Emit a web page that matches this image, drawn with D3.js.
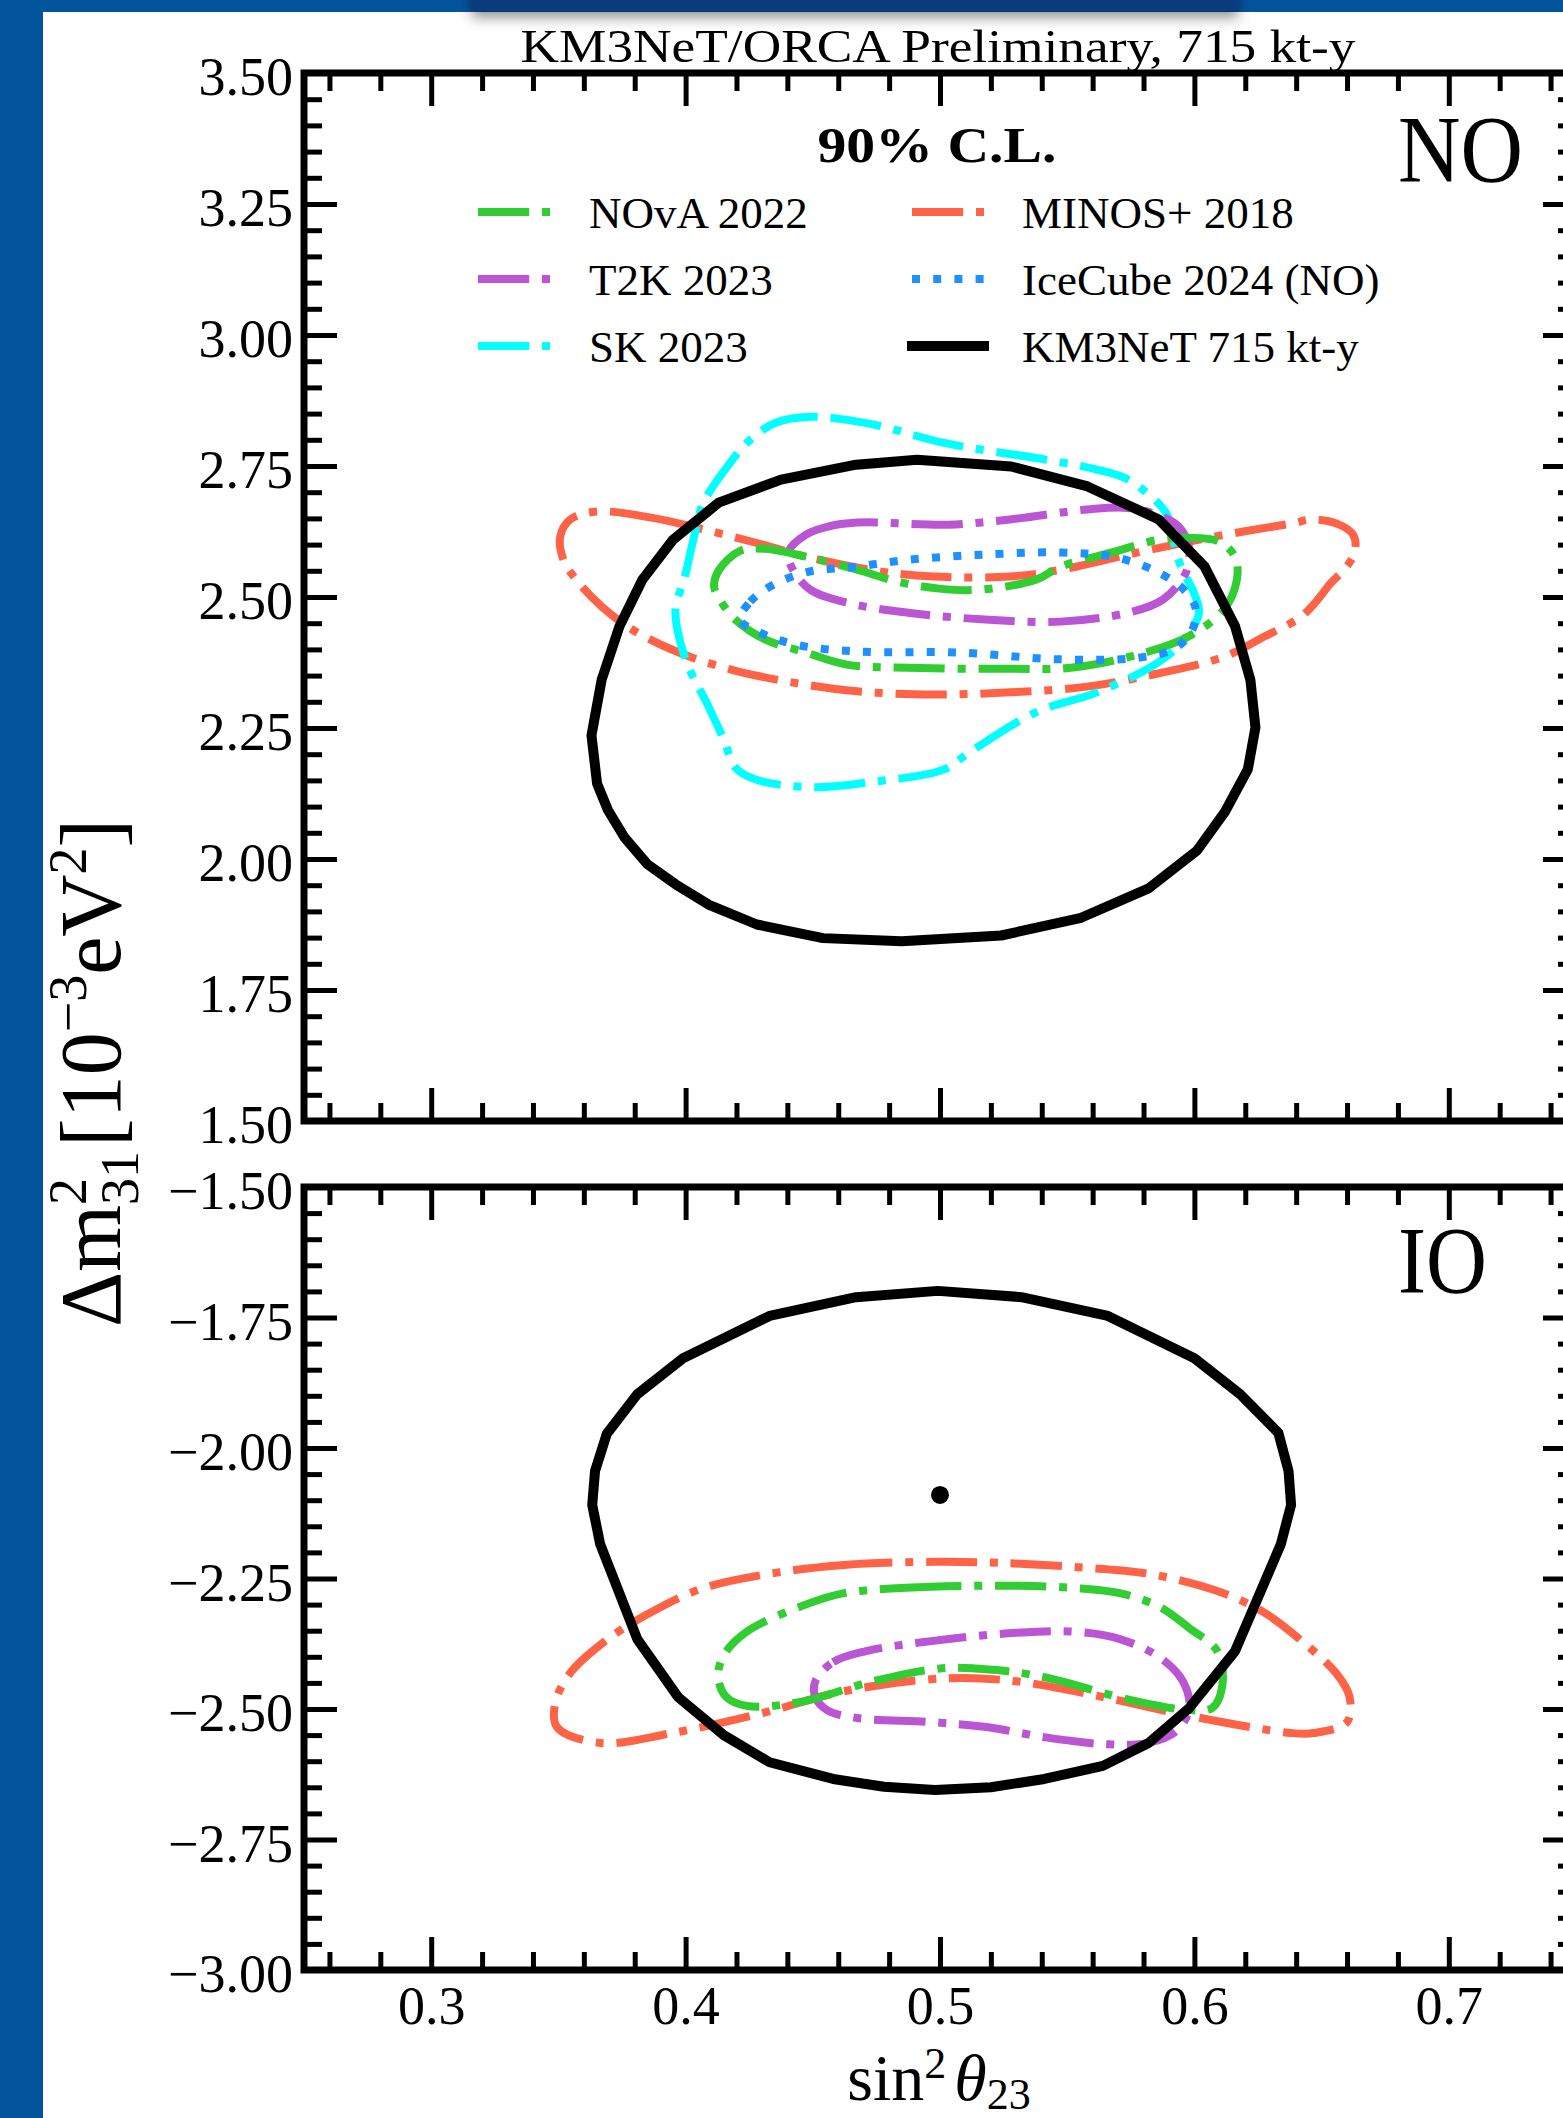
<!DOCTYPE html>
<html>
<head>
<meta charset="utf-8">
<script src="https://cdn.jsdelivr.net/npm/d3@7"></script>
<style>
  body { margin: 0; background: #03559b; overflow: hidden; }
  text { font-family: "Liberation Serif", "DejaVu Serif", serif; }
</style>
</head>
<body>
<div id="chart_div"></div>
<script>
// ---- data ----
const xTicks = [0.3, 0.4, 0.5, 0.6, 0.7];
const noYTicks = [1.50, 1.75, 2.00, 2.25, 2.50, 2.75, 3.00, 3.25, 3.50];
const ioYTicks = [-3.00, -2.75, -2.50, -2.25, -2.00, -1.75, -1.50];

const legendNames = ["NOvA 2022", "T2K 2023", "SK 2023", "MINOS+ 2018", "IceCube 2024 (NO)", "KM3NeT 715 kt-y"];
const legendColors = ["#32cd32", "#ba55d3", "#00ffff", "#ff6347", "#1e90ff", "#000000"];
const legendStyles = ["dashdot", "dashdot", "dashdot", "dashdot", "dotted", "solid"];

// normal ordering, 90% C.L. contours [sin2theta23, dm2_31]
const noNova = [[0.4312,2.592],[0.4214,2.588],[0.4132,2.552],[0.4112,2.520],[0.4143,2.489],[0.4195,2.457],[0.4312,2.419],[0.4473,2.394],[0.4634,2.371],[0.4874,2.365],[0.5275,2.363],[0.5515,2.365],[0.5778,2.390],[0.5978,2.425],[0.6116,2.476],[0.6167,2.533],[0.6159,2.577],[0.6096,2.606],[0.5978,2.613],[0.5857,2.609],[0.5676,2.585],[0.5475,2.558],[0.5377,2.533],[0.5157,2.514],[0.4996,2.516],[0.4835,2.529],[0.4674,2.552],[0.4473,2.577]];
const noT2k = [[0.4473,2.619],[0.4556,2.634],[0.4674,2.642],[0.5035,2.638],[0.5275,2.648],[0.5578,2.667],[0.5739,2.670],[0.5876,2.653],[0.5939,2.634],[0.5978,2.596],[0.5967,2.547],[0.5876,2.495],[0.5739,2.470],[0.5475,2.453],[0.5177,2.457],[0.4874,2.470],[0.4634,2.489],[0.449,2.514],[0.4422,2.552],[0.4403,2.585]];
const noSk = [[0.4634,2.838],[0.449,2.844],[0.4356,2.833],[0.4254,2.800],[0.4175,2.756],[0.407,2.680],[0.404,2.629],[0.3994,2.533],[0.396,2.476],[0.400,2.381],[0.409,2.291],[0.415,2.228],[0.4195,2.175],[0.4273,2.152],[0.449,2.137],[0.4713,2.146],[0.5016,2.171],[0.5114,2.203],[0.5377,2.280],[0.5617,2.318],[0.5857,2.375],[0.596,2.419],[0.6018,2.470],[0.5998,2.508],[0.5947,2.558],[0.5916,2.609],[0.5888,2.661],[0.5739,2.724],[0.5617,2.743],[0.5417,2.762],[0.5016,2.794],[0.4776,2.825]];
const noMinos = [[0.365,2.663],[0.387,2.651],[0.407,2.629],[0.4273,2.604],[0.4473,2.577],[0.4776,2.548],[0.4976,2.539],[0.5275,2.539],[0.5475,2.552],[0.5778,2.585],[0.6077,2.615],[0.640,2.642],[0.6454,2.648],[0.656,2.640],[0.6625,2.618],[0.663,2.585],[0.659,2.553],[0.6535,2.526],[0.648,2.492],[0.6415,2.461],[0.6277,2.425],[0.6116,2.386],[0.5876,2.356],[0.5578,2.329],[0.5275,2.318],[0.4976,2.314],[0.4674,2.320],[0.4395,2.339],[0.4175,2.362],[0.3974,2.394],[0.379,2.438],[0.367,2.482],[0.357,2.533],[0.352,2.571],[0.3507,2.615],[0.3547,2.648]];
const noIceCube = [[0.4214,2.457],[0.4254,2.491],[0.4332,2.520],[0.4473,2.547],[0.4674,2.558],[0.4874,2.571],[0.5177,2.581],[0.5475,2.585],[0.5676,2.577],[0.5837,2.552],[0.5959,2.514],[0.6006,2.476],[0.5986,2.432],[0.5916,2.400],[0.5778,2.384],[0.5475,2.381],[0.5075,2.394],[0.4674,2.396],[0.4434,2.409],[0.4293,2.432]];
const noKm3net = [[0.491,2.762],[0.528,2.749],[0.558,2.711],[0.586,2.648],[0.604,2.558],[0.616,2.444],[0.622,2.342],[0.624,2.251],[0.621,2.171],[0.612,2.090],[0.601,2.016],[0.582,1.944],[0.555,1.887],[0.524,1.854],[0.485,1.843],[0.454,1.849],[0.428,1.875],[0.409,1.913],[0.396,1.952],[0.385,1.990],[0.376,2.041],[0.3695,2.093],[0.3652,2.144],[0.363,2.236],[0.367,2.342],[0.374,2.444],[0.383,2.533],[0.395,2.609],[0.413,2.680],[0.4375,2.724],[0.467,2.7525]];

// inverted ordering
const ioNova = [[0.530,-2.264],[0.4965,-2.266],[0.4623,-2.278],[0.4466,-2.301],[0.424,-2.352],[0.415,-2.397],[0.4128,-2.439],[0.416,-2.477],[0.424,-2.494],[0.4446,-2.487],[0.4737,-2.447],[0.5008,-2.422],[0.5212,-2.425],[0.541,-2.439],[0.575,-2.483],[0.598,-2.502],[0.607,-2.498],[0.611,-2.454],[0.609,-2.389],[0.598,-2.345],[0.5866,-2.305],[0.5707,-2.278],[0.5527,-2.268]];
const ioT2k = [[0.451,-2.447],[0.458,-2.410],[0.471,-2.389],[0.4965,-2.370],[0.530,-2.354],[0.553,-2.352],[0.5707,-2.366],[0.5866,-2.402],[0.5955,-2.447],[0.598,-2.498],[0.593,-2.542],[0.582,-2.565],[0.564,-2.567],[0.541,-2.554],[0.519,-2.535],[0.4965,-2.525],[0.467,-2.517],[0.4556,-2.502],[0.451,-2.477]];
const ioMinos = [[0.4984,-2.218],[0.4623,-2.224],[0.433,-2.241],[0.406,-2.270],[0.3837,-2.322],[0.3675,-2.373],[0.3543,-2.433],[0.3487,-2.490],[0.3495,-2.535],[0.3664,-2.565],[0.3947,-2.546],[0.4285,-2.510],[0.4623,-2.466],[0.503,-2.441],[0.530,-2.447],[0.564,-2.477],[0.598,-2.513],[0.638,-2.546],[0.647,-2.546],[0.660,-2.525],[0.661,-2.477],[0.656,-2.433],[0.643,-2.373],[0.627,-2.314],[0.609,-2.274],[0.582,-2.241],[0.553,-2.228],[0.523,-2.220]];
const ioKm3net = [[0.4992,-1.699],[0.532,-1.711],[0.566,-1.747],[0.600,-1.828],[0.618,-1.897],[0.633,-1.971],[0.637,-2.044],[0.638,-2.109],[0.634,-2.184],[0.616,-2.389],[0.598,-2.498],[0.582,-2.565],[0.564,-2.609],[0.541,-2.634],[0.520,-2.650],[0.498,-2.655],[0.478,-2.649],[0.458,-2.634],[0.433,-2.602],[0.415,-2.550],[0.397,-2.477],[0.381,-2.366],[0.3664,-2.184],[0.3633,-2.109],[0.3644,-2.044],[0.369,-1.973],[0.381,-1.897],[0.399,-1.828],[0.433,-1.747],[0.467,-1.711]];
const ioBestFit = [0.5, -2.09];

// ---- layout ----
const width = 1563, height = 2118;
const lw = 8;
const dashes = { dashdot: [6.4*lw, 1.6*lw, lw, 1.6*lw].join(","), dotted: [lw, 1.65*lw].join(","), solid: null };
const font = 54;

const x = d3.scaleLinear().domain([0.25, 0.75]).range([304, 1576]);
const yNO = d3.scaleLinear().domain([1.5, 3.5]).range([1121, 73]);
const yIO = d3.scaleLinear().domain([-3.0, -1.5]).range([1970, 1187]);

const xMinor = d3.range(0.26, 0.745, 0.02).filter(v => Math.abs(v*10 - Math.round(v*10)) > 0.01);

const svg = d3.select("#chart_div")
    .append("svg")
    .attr("width", width)
    .attr("height", height);

const defs = svg.append("defs");
defs.append("filter").attr("id", "shadow")
    .attr("x", "-10%").attr("y", "-50%").attr("width", "120%").attr("height", "250%")
    .append("feDropShadow")
    .attr("dx", 0).attr("dy", 6).attr("stdDeviation", 7)
    .attr("flood-color", "#000").attr("flood-opacity", 0.45);

svg.append("rect").attr("width", width).attr("height", height).attr("fill", "#03559b");
svg.append("rect").attr("x", 43).attr("y", 12).attr("width", width - 43).attr("height", height - 12).attr("fill", "#fff");
svg.append("rect").attr("x", 472).attr("y", -30).attr("width", 766).attr("height", 41)
    .attr("fill", "#0b3a7f").attr("filter", "url(#shadow)");

const line = d3.line().x(d => x(d[0]));

const panel = (id, y, yTicks, curves, showX) => {
    const g = svg.append("g").attr("id", id);
    const [y0, y1] = y.range();
    const yMinor = d3.range(y.domain()[0], y.domain()[1] + 0.001, 0.05)
        .filter(v => Math.abs(v*4 - Math.round(v*4)) > 0.01);

    g.append("clipPath").attr("id", "clip-" + id)
        .append("rect").attr("x", x.range()[0]).attr("y", y1)
        .attr("width", x.range()[1] - x.range()[0]).attr("height", y0 - y1);

    const plot = g.append("g").attr("clip-path", `url(#clip-${id})`);
    curves.forEach(c => {
        plot.append("path")
            .attr("d", line.y(d => y(d[1])).curve(c.curve)(c.data))
            .attr("fill", "none")
            .attr("stroke", c.color)
            .attr("stroke-width", c.width)
            .attr("stroke-dasharray", dashes[c.style])
            .attr("stroke-linejoin", "round");
    });

    const styleAxis = (a, labels) => {
        a.select(".domain").remove();
        a.selectAll("line").attr("stroke", "#000").attr("stroke-width", 5);
        a.attr("font-size", font).attr("font-family", "Liberation Serif");
        if (!labels) a.selectAll("text").remove();
    };

    // major + minor ticks on all four sides, pointing in
    g.append("g").attr("transform", `translate(${x.range()[0]},0)`)
        .call(d3.axisLeft(y).tickValues(yTicks).tickFormat(d3.format(".2f")).tickSize(-33).tickPadding(11))
        .call(a => styleAxis(a, true))
        .call(a => a.selectAll("text").attr("dy", "0.4em"));
    g.append("g").attr("transform", `translate(${x.range()[0]},0)`)
        .call(d3.axisLeft(y).tickValues(yMinor).tickSize(-18).tickFormat(""))
        .call(a => styleAxis(a, false));
    g.append("g").attr("transform", `translate(${x.range()[1]},0)`)
        .call(d3.axisRight(y).tickValues(yTicks).tickSize(-33).tickFormat(""))
        .call(a => styleAxis(a, false));
    g.append("g").attr("transform", `translate(${x.range()[1]},0)`)
        .call(d3.axisRight(y).tickValues(yMinor).tickSize(-18).tickFormat(""))
        .call(a => styleAxis(a, false));
    g.append("g").attr("transform", `translate(0,${y1})`)
        .call(d3.axisTop(x).tickValues(xTicks).tickSize(-33).tickFormat(""))
        .call(a => styleAxis(a, false));
    g.append("g").attr("transform", `translate(0,${y1})`)
        .call(d3.axisTop(x).tickValues(xMinor).tickSize(-18).tickFormat(""))
        .call(a => styleAxis(a, false));
    g.append("g").attr("transform", `translate(0,${y0})`)
        .call(d3.axisBottom(x).tickValues(xTicks).tickSize(-33).tickPadding(16).tickFormat(d3.format(".1f")))
        .call(a => styleAxis(a, showX));
    g.append("g").attr("transform", `translate(0,${y0})`)
        .call(d3.axisBottom(x).tickValues(xMinor).tickSize(-18).tickFormat(""))
        .call(a => styleAxis(a, false));

    g.append("rect")
        .attr("x", x.range()[0]).attr("y", y1)
        .attr("width", x.range()[1] - x.range()[0]).attr("height", y0 - y1)
        .attr("fill", "none").attr("stroke", "#000").attr("stroke-width", 7);
    return g;
};

const closed = d3.curveCatmullRomClosed.alpha(0.5);
const poly = d3.curveLinearClosed;

panel("no", yNO, noYTicks, [
    { data: noMinos, color: legendColors[3], style: "dashdot", width: lw, curve: closed },
    { data: noSk, color: legendColors[2], style: "dashdot", width: lw, curve: closed },
    { data: noT2k, color: legendColors[1], style: "dashdot", width: lw, curve: closed },
    { data: noNova, color: legendColors[0], style: "dashdot", width: lw, curve: closed },
    { data: noIceCube, color: legendColors[4], style: "dotted", width: lw, curve: closed },
    { data: noKm3net, color: legendColors[5], style: "solid", width: 10, curve: poly }
], false);

const io = panel("io", yIO, ioYTicks, [
    { data: ioMinos, color: legendColors[3], style: "dashdot", width: lw, curve: closed },
    { data: ioT2k, color: legendColors[1], style: "dashdot", width: lw, curve: closed },
    { data: ioNova, color: legendColors[0], style: "dashdot", width: lw, curve: closed },
    { data: ioKm3net, color: legendColors[5], style: "solid", width: 10, curve: poly }
], true);

io.append("circle")
    .attr("cx", x(ioBestFit[0]))
    .attr("cy", yIO(ioBestFit[1]))
    .attr("r", 9)
    .attr("fill", "#000");

// ordering labels
svg.append("text").attr("x", 1398).attr("y", 182).attr("font-size", 96)
    .attr("textLength", 125).attr("lengthAdjust", "spacingAndGlyphs").text("NO");
svg.append("text").attr("x", 1398).attr("y", 1293).attr("font-size", 96)
    .attr("textLength", 89).attr("lengthAdjust", "spacingAndGlyphs").text("IO");

// title
svg.append("text").attr("x", 938).attr("y", 62).attr("font-size", 46)
    .attr("text-anchor", "middle")
    .attr("textLength", 835).attr("lengthAdjust", "spacingAndGlyphs")
    .text("KM3NeT/ORCA Preliminary, 715 kt-y");

// legend
const legend = svg.append("g").attr("id", "legend");
legend.append("text").attr("x", 937).attr("y", 162).attr("font-size", 50)
    .attr("font-weight", "bold").attr("text-anchor", "middle")
    .attr("textLength", 239).attr("lengthAdjust", "spacingAndGlyphs")
    .text("90% C.L.");

legendNames.forEach((name, i) => {
    const col = Math.floor(i / 3), row = i % 3;
    const lx = col === 0 ? 478 : 912;
    const tx = col === 0 ? 589 : 1022;
    const by = 228 + row * 67;
    legend.append("line")
        .attr("x1", lx).attr("x2", lx + 72)
        .attr("y1", by - 16).attr("y2", by - 16)
        .attr("stroke", legendColors[i])
        .attr("stroke-width", legendStyles[i] === "solid" ? 10 : lw)
        .attr("stroke-linecap", legendStyles[i] === "solid" ? "square" : "butt")
        .attr("stroke-dasharray", dashes[legendStyles[i]]);
    legend.append("text").attr("x", tx).attr("y", by).attr("font-size", 45).text(name);
});

// axis labels
const xl = svg.append("text").attr("x", 939).attr("y", 2100).attr("font-size", 66).attr("text-anchor", "middle");
xl.append("tspan").text("sin");
xl.append("tspan").attr("font-size", 44).attr("dy", -22).text("2");
xl.append("tspan").attr("font-size", 66).attr("dy", 22).attr("dx", 8).attr("font-style", "italic").text("θ");
xl.append("tspan").attr("font-size", 44).attr("dy", 9).text("23");

const yl = svg.append("text").attr("transform", "translate(120,1073) rotate(-90)")
    .attr("font-size", 86).attr("text-anchor", "middle");
yl.append("tspan").text("Δm");
yl.append("tspan").attr("font-size", 54).attr("dy", -34).text("2");
yl.append("tspan").attr("font-size", 54).attr("dx", -27).attr("dy", 52).text("31");
yl.append("tspan").attr("font-size", 86).attr("dy", -18).attr("dx", 4).text("[10");
yl.append("tspan").attr("font-size", 54).attr("dy", -34).text("−3");
yl.append("tspan").attr("font-size", 86).attr("dy", 34).text("eV");
yl.append("tspan").attr("font-size", 54).attr("dy", -34).text("2");
yl.append("tspan").attr("font-size", 86).attr("dy", 34).text("]");
</script>
</body>
</html>
